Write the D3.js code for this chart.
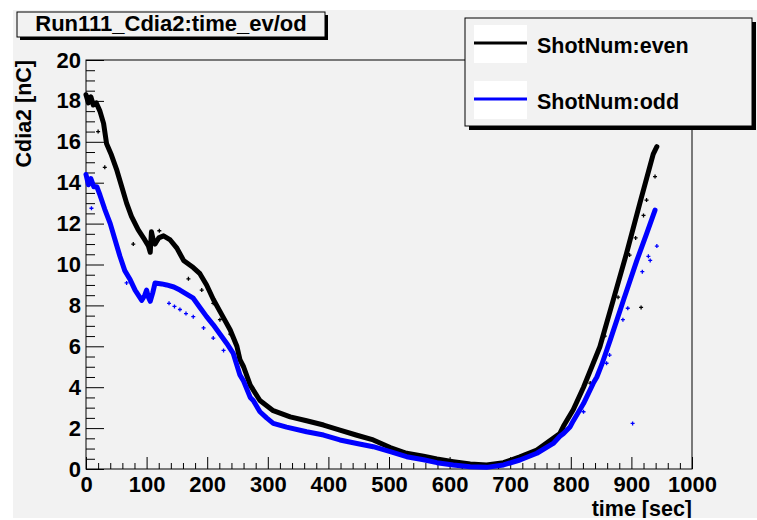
<!DOCTYPE html>
<html>
<head>
<meta charset="utf-8">
<script src="https://cdn.jsdelivr.net/npm/d3@7"></script>
<style>
  html, body { margin: 0; padding: 0; background: #ffffff; }
  svg { display: block; }
</style>
</head>
<body>
<div id="chart"></div>
<script>
// Run111 Cdia2 vs time — ROOT-style scatter, even/odd shots.
// Band = dense marker cloud, drawn as a thick polyline; stray markers as "+".

const TITLE = 'Run111_Cdia2:time_ev/od';
const X_TITLE = 'time [sec]';
const Y_TITLE = 'Cdia2 [nC]';
const SERIES_NAMES = ['ShotNum:even', 'ShotNum:odd'];

const X_TICKS = [0, 100, 200, 300, 400, 500, 600, 700, 800, 900, 1000];
const Y_TICKS = [0, 2, 4, 6, 8, 10, 12, 14, 16, 18, 20];

// even shots (black), main band
const evenTime = [0, 4, 8, 12, 17, 23, 29, 34, 42, 51, 59, 67, 75, 86, 97, 103, 106, 108, 111, 114, 120, 128, 139, 150,
  161, 177, 188, 199, 210, 224, 238, 249, 254, 260, 271, 287, 309, 337, 364, 392, 419, 447, 474, 502, 529, 557, 579,
  606, 634, 661, 689, 716, 744, 771, 782, 788, 804, 821, 837, 848, 870, 892, 914, 936, 942];
const evenCharge = [18.3, 17.9, 18.2, 17.8, 17.9, 17.5, 16.9, 15.9, 15.35, 14.6, 13.8, 13.0, 12.35, 11.7, 11.2, 10.9,
  10.6, 11.6, 11.2, 11.0, 11.3, 11.4, 11.2, 10.8, 10.2, 9.85, 9.55, 9.0, 8.3, 7.55, 6.8, 6.0, 5.35, 5.0, 4.1, 3.35,
  2.85, 2.55, 2.36, 2.15, 1.9, 1.65, 1.42, 1.05, 0.77, 0.62, 0.49, 0.36, 0.24, 0.2, 0.31, 0.6, 0.93, 1.5, 1.74, 2.1,
  2.9, 4.0, 5.17, 5.98, 8.26, 10.55, 13.0, 15.4, 15.76];

// odd shots (blue), main band
const oddTime = [0, 4, 8, 13, 18, 23, 31, 40, 48, 56, 64, 73, 81, 92, 97, 100, 103, 106, 110, 114, 125, 133, 145, 155,
  166, 177, 188, 199, 210, 221, 232, 243, 254, 260, 271, 276, 287, 298, 309, 331, 364, 392, 419, 447, 474, 502, 529,
  557, 579, 606, 634, 661, 689, 716, 744, 771, 782, 788, 799, 804, 821, 837, 843, 851, 865, 887, 909, 925, 939];
const oddCharge = [14.4, 13.9, 14.2, 13.8, 13.8, 13.4, 12.7, 12.0, 11.2, 10.4, 9.7, 9.25, 8.75, 8.25, 8.5, 8.75, 8.4,
  8.2, 8.6, 9.1, 9.05, 9.0, 8.9, 8.75, 8.55, 8.35, 7.9, 7.45, 7.05, 6.6, 6.15, 5.65, 4.6, 4.3, 3.5, 3.35, 2.8, 2.5,
  2.23, 2.05, 1.82, 1.66, 1.42, 1.25, 1.09, 0.85, 0.6, 0.45, 0.31, 0.2, 0.11, 0.08, 0.2, 0.44, 0.77, 1.25, 1.6, 1.74,
  2.07, 2.35, 3.2, 4.19, 4.5, 5.1, 6.3, 8.26, 10.2, 11.5, 12.66];

// stray markers off the band
const evenStrayTime = [20, 31, 78, 121, 169, 191, 210, 221, 238, 832, 856, 878, 897, 907, 916, 920, 925, 939];
const evenStrayCharge = [16.5, 14.75, 11.0, 11.65, 9.3, 8.75, 8.1, 7.3, 6.6, 4.2, 6.5, 8.4, 10.46, 11.3, 7.9, 12.4,
  13.15, 14.3];
const oddStrayTime = [9, 67, 137, 146, 155, 165, 177, 194, 210, 227, 821, 859, 864, 886, 894, 902, 918, 928, 931, 942];
const oddStrayCharge = [12.75, 9.1, 8.1, 7.95, 7.8, 7.6, 7.45, 6.9, 6.4, 5.8, 2.8, 5.17, 5.57, 7.3, 7.86, 2.23, 9.65,
  10.4, 10.2, 10.9];

(function () {
  const PALETTE = {
    paper: '#f2f2f2',
    ink: '#000000',
    even: '#000000',
    odd: '#0000ff',
    key: '#ffffff',
  };
  const FONT = '"Liberation Sans", Arial, Helvetica, sans-serif';

  const W = 757, H = 520;
  const frame = { left: 86, right: 692, top: 60, bottom: 469 };

  const svg = d3.select('#chart').append('svg')
    .attr('width', W).attr('height', H)
    .attr('viewBox', `0 0 ${W} ${H}`);

  svg.append('clipPath').attr('id', 'pad')
    .append('rect').attr('x', 13).attr('y', 10).attr('width', W - 13).attr('height', 508);

  const pad = svg.append('g').attr('clip-path', 'url(#pad)');

  pad.append('rect')
    .attr('x', 13).attr('y', 10).attr('width', W - 13).attr('height', 508)
    .attr('fill', PALETTE.paper);

  const x = d3.scaleLinear().domain([0, 1000]).range([frame.left, frame.right]);
  const y = d3.scaleLinear().domain([0, 20]).range([frame.bottom, frame.top]);

  // frame
  pad.append('rect')
    .attr('x', frame.left).attr('y', frame.top)
    .attr('width', frame.right - frame.left).attr('height', frame.bottom - frame.top)
    .attr('fill', 'none').attr('stroke', PALETTE.ink).attr('stroke-width', 1);

  // ticks point inward, minor ticks without labels
  const xMinor = d3.range(0, 1001, 20).filter(v => v % 100 !== 0);
  const yMinor = d3.range(0, 20.01, 0.5).filter(v => v % 2 !== 0);

  const xAxis = pad.append('g').attr('transform', `translate(0,${frame.bottom})`)
    .call(d3.axisBottom(x).tickValues(X_TICKS).tickFormat(d3.format('d'))
      .tickSizeInner(-12).tickSizeOuter(0).tickPadding(7));
  xAxis.append('g')
    .call(d3.axisBottom(x).tickValues(xMinor).tickFormat('').tickSizeInner(-6).tickSizeOuter(0));

  const yAxis = pad.append('g').attr('transform', `translate(${frame.left},0)`)
    .call(d3.axisLeft(y).tickValues(Y_TICKS).tickFormat(d3.format('d'))
      .tickSizeInner(-18).tickSizeOuter(0).tickPadding(5));
  yAxis.append('g')
    .call(d3.axisLeft(y).tickValues(yMinor).tickFormat('').tickSizeInner(-9).tickSizeOuter(0));

  pad.selectAll('.domain').remove();
  pad.selectAll('.tick line').attr('stroke', PALETTE.ink);
  pad.selectAll('.tick text')
    .attr('font-family', FONT).attr('font-size', 22).attr('font-weight', 'bold')
    .attr('fill', PALETTE.ink);

  // axis titles
  pad.append('text')
    .attr('x', frame.right).attr('y', 516)
    .attr('text-anchor', 'end')
    .attr('font-family', FONT).attr('font-size', 21.5).attr('font-weight', 'bold')
    .text(X_TITLE);

  pad.append('text')
    .attr('transform', `translate(31,${frame.top}) rotate(-90)`)
    .attr('text-anchor', 'end')
    .attr('font-family', FONT).attr('font-size', 21.5).attr('font-weight', 'bold')
    .text(Y_TITLE);

  // data
  const plot = pad.append('g');
  const line = d3.line().x(d => x(d[0])).y(d => y(d[1]));

  function drawSeries(times, values, strayT, strayV, color) {
    const pts = times.map((t, i) => [t, values[i]]);
    plot.append('path')
      .datum(pts)
      .attr('d', line)
      .attr('fill', 'none')
      .attr('stroke', color)
      .attr('stroke-width', 5)
      .attr('stroke-linejoin', 'round')
      .attr('stroke-linecap', 'round');

    const stray = strayT.map((t, i) => [t, strayV[i]]);
    plot.append('g').selectAll('path')
      .data(stray)
      .join('path')
      .attr('d', d => {
        const cx = x(d[0]), cy = y(d[1]);
        return `M${cx - 2},${cy}H${cx + 2}M${cx},${cy - 2}V${cy + 2}`;
      })
      .attr('stroke', color)
      .attr('stroke-width', 1.3);
  }

  drawSeries(evenTime, evenCharge, evenStrayTime, evenStrayCharge, PALETTE.even);
  drawSeries(oddTime, oddCharge, oddStrayTime, oddStrayCharge, PALETTE.odd);

  // title box with shadow
  pad.append('rect')
    .attr('x', 20).attr('y', 15).attr('width', 308).attr('height', 25)
    .attr('fill', PALETTE.ink);
  pad.append('rect')
    .attr('x', 17).attr('y', 12).attr('width', 308).attr('height', 25)
    .attr('fill', PALETTE.paper).attr('stroke', PALETTE.ink).attr('stroke-width', 1);
  pad.append('text')
    .attr('x', 171).attr('y', 31)
    .attr('text-anchor', 'middle')
    .attr('font-family', FONT).attr('font-size', 22).attr('font-weight', 'bold')
    .text(TITLE);

  // legend with shadow
  const lg = { x: 465, y: 18, w: 287, h: 108 };
  pad.append('rect')
    .attr('x', lg.x + 4).attr('y', lg.y + 4).attr('width', lg.w).attr('height', lg.h)
    .attr('fill', PALETTE.ink);
  pad.append('rect')
    .attr('x', lg.x).attr('y', lg.y).attr('width', lg.w).attr('height', lg.h)
    .attr('fill', PALETTE.paper).attr('stroke', PALETTE.ink).attr('stroke-width', 1);

  const colors = [PALETTE.even, PALETTE.odd];
  const rowY = [43, 99];
  SERIES_NAMES.forEach((name, i) => {
    pad.append('rect')
      .attr('x', 474).attr('y', rowY[i] - 18).attr('width', 53).attr('height', 38)
      .attr('fill', PALETTE.key);
    pad.append('line')
      .attr('x1', 474).attr('x2', 527)
      .attr('y1', rowY[i]).attr('y2', rowY[i])
      .attr('stroke', colors[i]).attr('stroke-width', 3);
    pad.append('text')
      .attr('x', 537).attr('y', rowY[i] + 10)
      .attr('font-family', FONT).attr('font-size', 21.5).attr('font-weight', 'bold')
      .attr('fill', PALETTE.ink)
      .text(name);
  });
})();
</script>
</body>
</html>
